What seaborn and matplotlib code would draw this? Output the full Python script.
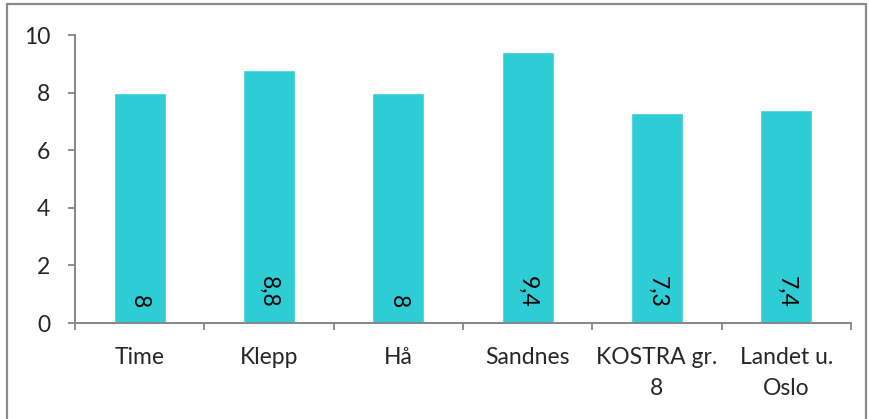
import matplotlib
matplotlib.use("Agg")
import matplotlib.pyplot as plt
import seaborn as sns
import pandas as pd
from matplotlib.patches import Rectangle
from matplotlib.transforms import offset_copy

# Data
categories = ["Time", "Klepp", "Hå", "Sandnes", "KOSTRA gr.\n8", "Landet u.\nOslo"]
values = [8.0, 8.8, 8.0, 9.4, 7.3, 7.4]
value_labels = ["8", "8,8", "8", "9,4", "7,3", "7,4"]
y_ticks = [0, 2, 4, 6, 8, 10]

sns.set_theme(style="white")
plt.rcParams["font.family"] = ["Lato", "DejaVu Sans"]

BAR = "#2ECCD4"
AXIS = "#868686"
FS = 16.5

df = pd.DataFrame({"kategori": categories, "verdi": values})

fig = plt.figure(figsize=(8.69, 4.19), dpi=100)
ax = fig.add_axes([75 / 869, 1 - 323 / 419, (851 - 75) / 869, (323 - 35) / 419])

sns.barplot(data=df, x="kategori", y="verdi", color=BAR, saturation=1,
            width=0.4, ax=ax)

ax.set_ylim(0, 10)
ax.set_xlim(-0.5, len(categories) - 0.5)
ax.set_yticks(y_ticks)
ax.set_yticklabels([str(t) for t in y_ticks])
ax.set_xlabel("")
ax.set_ylabel("")

# Category boundary ticks on the x axis, labels centred under each bar
ax.set_xticks([i + 0.5 for i in range(-1, len(categories))], minor=False)
ax.set_xticklabels([""] * (len(categories) + 1))
ax.set_xticks(range(len(categories)), minor=True)
ax.set_xticklabels(categories, minor=True, fontsize=FS, linespacing=1.6)
ax.tick_params(axis="x", which="major", length=5, width=1.3, color=AXIS,
               direction="out", bottom=True)
ax.tick_params(axis="x", which="minor", length=0, pad=17)
ax.tick_params(axis="y", length=5, width=1.3, color=AXIS, direction="out",
               left=True, pad=13, labelsize=FS)

for side in ["top", "right"]:
    ax.spines[side].set_visible(False)
for side in ["left", "bottom"]:
    ax.spines[side].set_color(AXIS)
    ax.spines[side].set_linewidth(1.4)

# Value labels inside the base of each bar, rotated
for i, (v, lab) in enumerate(zip(values, value_labels)):
    tr = offset_copy(ax.transData, fig=fig, x=0, y=15, units="dots")
    ax.text(i, 0, lab, rotation=270, ha="center", va="bottom",
            fontsize=FS, color="black", transform=tr)

# Outer chart frame
fig.patches.append(Rectangle((7 / 869, -0.05), (866 - 7) / 869, 1.05 - 4.5 / 419,
                             transform=fig.transFigure, fill=False,
                             edgecolor="#8A8A8A", linewidth=1.6))

fig.savefig("out.png", dpi=100)
